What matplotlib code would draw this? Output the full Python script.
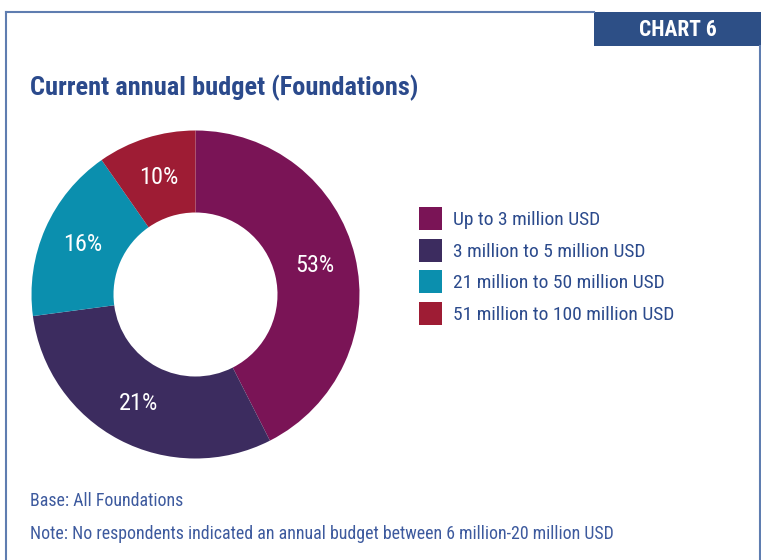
import numpy as np
import matplotlib.pyplot as plt
from matplotlib import font_manager as fm
from matplotlib.patches import Rectangle
from matplotlib.lines import Line2D

# budget categories and the slice shares as drawn (labels are the published figures)
categories = ["Up to 3 million USD", "3 million to 5 million USD",
              "21 million to 50 million USD", "51 million to 100 million USD"]
shares = [42.5, 30.4, 17.4, 9.7]
pct_labels = ["53%", "21%", "16%", "10%"]
colors = ["#7a1456", "#3c2c5f", "#0b8fae", "#9e1c34"]

title = "Current annual budget (Foundations)"
badge = "CHART 6"
notes = ["Base: All Foundations",
         "Note: No respondents indicated an annual budget between 6 million-20 million USD"]

W, H = 761, 560
installed = {f.name for f in fm.fontManager.ttflist}
if "Roboto Condensed" in installed:
    font = dict(family=["Roboto Condensed", "DejaVu Sans"])
else:
    font = dict(family=["DejaVu Sans"], fontstretch="condensed")
navy = "#2b4a8c"

fig = plt.figure(figsize=(W / 100, H / 100), dpi=100)

# frame lines and badge
frame_c = "#5f7db0"
fig.add_artist(Line2D([5.5 / W, 5.5 / W], [0, 1 - 12 / H], color=frame_c, lw=1.5))
fig.add_artist(Line2D([5.5 / W, 594 / W], [1 - 12 / H, 1 - 12 / H], color=frame_c, lw=1.5))
fig.add_artist(Line2D([759.5 / W, 759.5 / W], [0, 1 - 46 / H], color=frame_c, lw=1.5))
fig.add_artist(Rectangle((594 / W, 1 - 46 / H), (W - 594) / W, 34 / H,
                         transform=fig.transFigure, color="#2d4f86", lw=0))
fig.text(678 / W, 1 - 30 / H, badge, color="white", fontsize=15.5, fontweight="bold",
         ha="center", va="center", **font)

fig.text(30 / W, 1 - 88 / H, title, color=navy, fontsize=19, fontweight="bold",
         ha="left", va="center", **font)

# donut
cx, cy, r = 195.5, 294.5, 164
ax = fig.add_axes([(cx - r) / W, (H - cy - r) / H, 2 * r / W, 2 * r / H])
wedges, _ = ax.pie(shares, colors=colors, startangle=90, counterclock=False,
                   radius=1, wedgeprops=dict(width=0.5, edgecolor="none"))
for w, lab in zip(wedges, pct_labels):
    mid = np.deg2rad((w.theta1 + w.theta2) / 2)
    ax.text(0.75 * np.cos(mid), 0.75 * np.sin(mid), lab, color="white",
            fontsize=17.5, ha="center", va="center", **font)
ax.set_xlim(-1, 1)
ax.set_ylim(-1, 1)
ax.set_aspect("equal")
ax.axis("off")

# legend
ys = [218, 250, 281.5, 313]
for y, c, lab in zip(ys, colors, categories):
    fig.add_artist(Rectangle((419 / W, 1 - (y + 11.5) / H), 23 / W, 23 / H,
                             transform=fig.transFigure, color=c, lw=0))
    fig.text(453 / W, 1 - (y + 2) / H, lab, color=navy, fontsize=14,
             ha="left", va="center", **font)

fig.text(30 / W, 1 - 501 / H, notes[0], color="#3d5a9e", fontsize=12.9,
         ha="left", va="center", **font)
fig.text(30 / W, 1 - 534 / H, notes[1], color="#3d5a9e", fontsize=12.9,
         ha="left", va="center", **font)

fig.savefig("out.png", dpi=100)
